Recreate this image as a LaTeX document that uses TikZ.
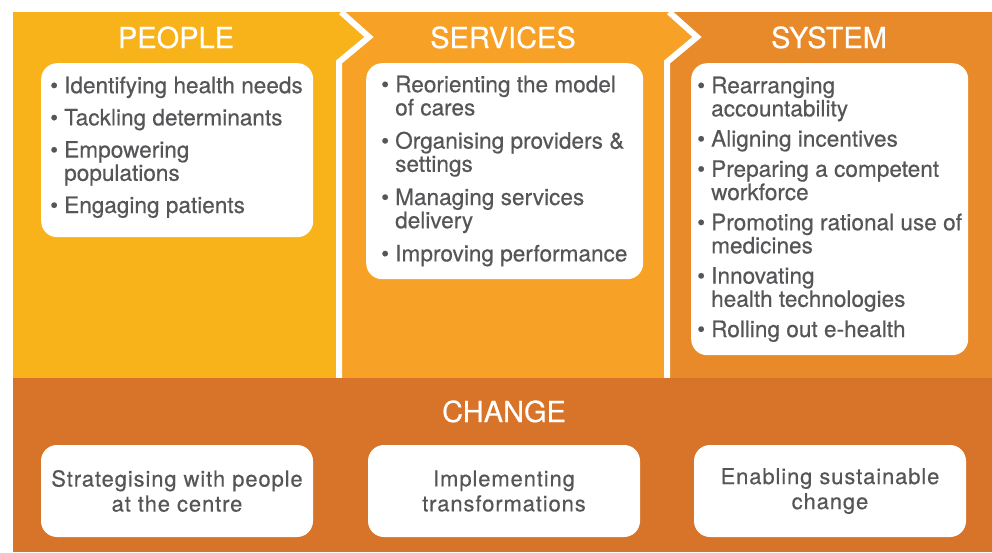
\documentclass[tikz,border=0pt]{standalone}
\usepackage{fontspec}
\setmainfont{TeX Gyre Heros}
\definecolor{peoplecol}{HTML}{F9B31A}
\definecolor{servicecol}{HTML}{F7A226}
\definecolor{systemcol}{HTML}{E98A2A}
\definecolor{changecol}{HTML}{D8732A}
\definecolor{txtgrey}{HTML}{555658}
\newcommand{\bul}{\rule{0pt}{17pt}\makebox[14pt][l]{\textbullet}}
\newcommand{\ind}{\hspace*{14pt}}
\tikzset{
  head/.style={anchor=base,text=white,inner sep=0pt,
    font=\fontsize{29}{34}\selectfont\addfontfeature{FakeBold=0.4}},
  card/.style={fill=white,rounded corners=16pt,inner sep=0pt},
  list/.style={anchor=north west,align=left,inner sep=0pt,text=txtgrey,
    font=\fontsize{22.6}{23.2}\selectfont\addfontfeature{FakeBold=0.4}},
  goal/.style={card,align=center,text=txtgrey,minimum width=272pt,minimum height=92pt,
    font=\fontsize{22}{25}\selectfont\addfontfeature{LetterSpace=4,FakeBold=0.4}},
  sep/.style={draw=white,line width=6pt,miter limit=10}
}

\begin{document}
\begin{tikzpicture}[x=1pt,y=-1pt]
  \useasboundingbox (0,0) rectangle (992,552);
  \fill[white] (0,0) rectangle (992,552);

  \fill[peoplecol] (13,12) -- (341,12) -- (369,37) -- (339,62) -- (339,378) -- (13,378) -- cycle;
  \fill[servicecol] (341,12) -- (669,12) -- (697,37) -- (667,62) -- (667,378) -- (339,378) -- (339,62) -- (369,37) -- cycle;
  \fill[systemcol] (669,12) -- (992,12) -- (992,378) -- (667,378) -- (667,62) -- (697,37) -- cycle;
  \draw[sep] (341,12) -- (369,37) -- (339,62) -- (339,378);
  \draw[sep] (669,12) -- (697,37) -- (667,62) -- (667,378);
  \fill[changecol] (13,378) rectangle (992,552);

  \node[head] (people) at (176,48) {PEOPLE};
  \node[head] (services) at (503,48) {SERVICES};
  \node[head] (system) at (829,48) {SYSTEM};
  \node[head] (change) at (504,422) {CHANGE};

  \node[card,anchor=north west,minimum width=272pt,minimum height=174pt] (peoplebox) at (41,63) {};
  \node[card,anchor=north west,minimum width=277pt,minimum height=216pt] (servicebox) at (366,63) {};
  \node[card,anchor=north west,minimum width=277pt,minimum height=292pt] (systembox) at (691,63) {};

  \node[list] (peoplelist) at (50,76) {\bul Identifying health needs\\[9pt]
    \bul Tackling determinants\\[9pt]
    \bul Empowering\\\ind populations\\[9pt]
    \bul Engaging patients};
  \node[list] (servicelist) at (381,75) {\bul Reorienting the model\\\ind of cares\\[10pt]
    \bul Organising providers \&\\\ind settings\\[10pt]
    \bul Managing services\\\ind delivery\\[10pt]
    \bul Improving performance};
  \node[list] (systemlist) at (697,76) {\bul Rearranging\\\ind accountability\\[7pt]
    \bul Aligning incentives\\[7pt]
    \bul Preparing a competent\\\ind workforce\\[7pt]
    \bul Promoting rational use of\\\ind medicines\\[7pt]
    \bul Innovating\\\ind health technologies\\[7pt]
    \bul Rolling out e-health};

  \node[goal] (strategise) at (177,491) {Strategising with people\\at the centre};
  \node[goal] (implement) at (504,491) {Implementing\\transformations};
  \node[goal] (enable) at (830,491) {Enabling sustainable\\change};
\end{tikzpicture}
\end{document}
